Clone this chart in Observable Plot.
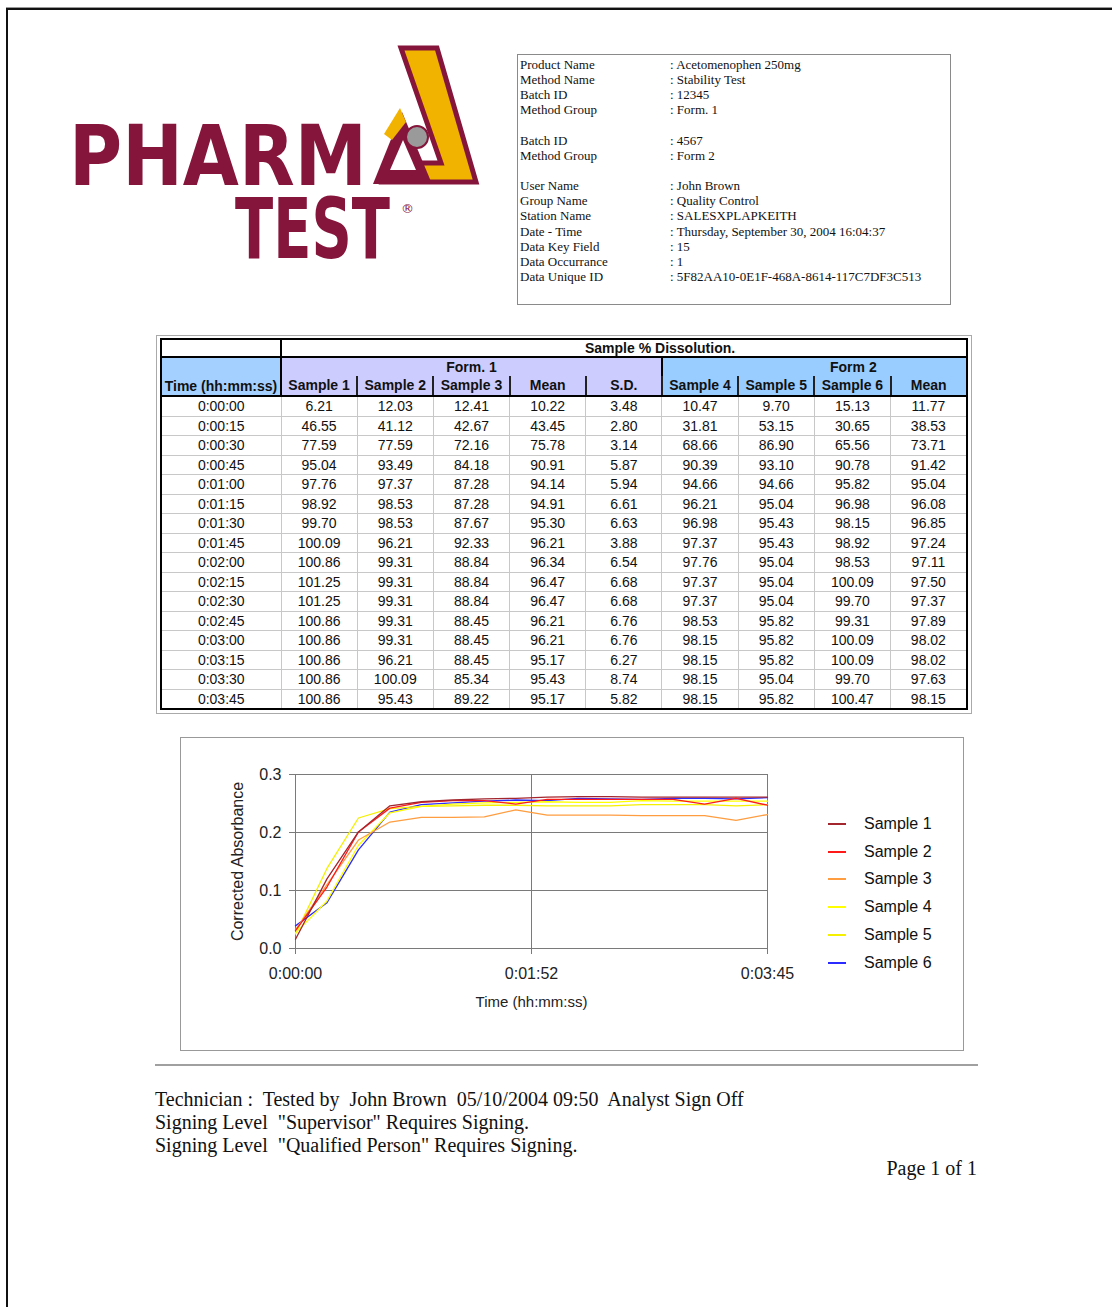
<!DOCTYPE html>
<html>
<head>
<meta charset="utf-8">
<script src="https://cdn.jsdelivr.net/npm/d3@7"></script>
<script src="https://cdn.jsdelivr.net/npm/@observablehq/plot@0.6"></script>
<style>
  html, body { margin: 0; padding: 0; background: #fff; }
  body { width: 1112px; height: 1307px; position: relative; overflow: hidden; font-family: "Liberation Sans", Arial, sans-serif; color: #111; }
  .abs { position: absolute; }
  #pageborder { left: 6px; top: 8px; width: 1300px; height: 1400px; border-top: 2px solid #111; border-left: 2px solid #111; box-shadow: 0 -1px 0 #999; }
  #info { left: 517px; top: 54px; width: 434px; height: 251px; border: 1px solid #8a8a8a; box-sizing: border-box; font-family: "Liberation Serif", "Times New Roman", serif; font-size: 13px; line-height: 15.15px; color: #111; }
  #info .row { position: relative; height: 15.15px; white-space: nowrap; }
  #info .lab { position: absolute; left: 2px; }
  #info .val { position: absolute; left: 152px; }
  #tframe { left: 156px; top: 335px; width: 816px; height: 379px; border: 1px solid #aaa; box-sizing: border-box; }
  table.diss { position: absolute; left: 160px; top: 338px; width: 806px; border-collapse: collapse; table-layout: fixed; font-size: 14px; border: 2px solid #000; }
  table.diss td, table.diss th { padding: 0; text-align: center; overflow: hidden; white-space: nowrap; }
  table.diss tr.title td { height: 16px; line-height: 16px; font-weight: bold; border-bottom: 2px solid #000; }
  table.diss tr.h2 th { height: 18px; line-height: 18px; }
  table.diss tr.h3 th { height: 18px; line-height: 19px; border-bottom: 2px solid #000; }
  table.diss tr.data td { height: 18.5px; border: 1px solid #c8c8c8; line-height: 18px; }
  .f1 { background: #ccccff; }
  .f2 { background: #99ccff; }
  .tm { background: #a4d0ff; }
  #cframe { left: 180px; top: 737px; width: 784px; height: 314px; border: 1px solid #999; box-sizing: border-box; }
  #chart { left: 180px; top: 737px; }
  #legend { left: 828px; top: 810px; font-size: 16px; color: #111; }
  #legend .item { display: flex; align-items: center; height: 27.8px; white-space: nowrap; }
  #legend .sw { width: 18px; height: 2px; margin-right: 18px; }
  #rule { left: 155px; top: 1064px; width: 823px; border-top: 2px solid #a0a0a0; }
  #footer { left: 155px; top: 1088px; width: 822px; font-family: "Liberation Serif", "Times New Roman", serif; font-size: 20px; line-height: 23px; color: #111; white-space: pre; }
</style>
</head>
<body>
<div id="pageborder" class="abs"></div>

<svg class="abs" style="left:0;top:0" width="520" height="300" viewBox="0 0 520 300">
  <text transform="translate(69,185) scale(1,1.16)" x="0" y="0" font-family="DejaVu Sans" font-weight="bold" font-size="72" fill="#85153b" textLength="298" lengthAdjust="spacingAndGlyphs">PHARM</text>
  <text transform="translate(235,258) scale(1,1.5)" x="0" y="0" font-family="DejaVu Sans" font-weight="bold" font-size="56" fill="#85153b" textLength="155" lengthAdjust="spacingAndGlyphs">TEST</text>
  <text x="401" y="213" font-family="DejaVu Sans" font-size="13" fill="#85153b">®</text>
  <polygon points="401,48 437,48 476,182 382,182 388,163 441,163" fill="#f2b200" stroke="#85153b" stroke-width="5" stroke-linejoin="miter"/>
  <polygon points="373,184 402,112 432,184" fill="#85153b"/>
  <polygon points="390,170 403,140 416,170" fill="#ffffff"/>
  <polygon points="384,134 400,108 406,122 392,140" fill="#f2b200"/>
  <circle cx="417" cy="137" r="11" fill="#9a9a9a" stroke="#85153b" stroke-width="2"/>
</svg>

<div id="info" class="abs"></div>
<div id="tframe" class="abs"></div>
<table class="diss" id="diss"></table>
<div id="cframe" class="abs"></div>
<div id="chart" class="abs"></div>
<div id="legend" class="abs"></div>
<div id="rule" class="abs"></div>
<div id="footer" class="abs"></div>

<script>
// ---------- Header info ----------
const infoLabels = ["Product Name", "Method Name", "Batch ID", "Method Group", "", "Batch ID", "Method Group", "", "User Name", "Group Name", "Station Name", "Date - Time", "Data Key Field", "Data Occurrance", "Data Unique ID"];
const infoValues = [": Acetomenophen 250mg", ": Stability Test", ": 12345", ": Form. 1", "", ": 4567", ": Form 2", "", ": John Brown", ": Quality Control", ": SALESXPLAPKEITH", ": Thursday, September 30, 2004 16:04:37", ": 15", ": 1", ": 5F82AA10-0E1F-468A-8614-117C7DF3C513"];

// ---------- Table: Sample % Dissolution ----------
const timeLabels = ["0:00:00","0:00:15","0:00:30","0:00:45","0:01:00","0:01:15","0:01:30","0:01:45","0:02:00","0:02:15","0:02:30","0:02:45","0:03:00","0:03:15","0:03:30","0:03:45"];
const diss1 = ["6.21","46.55","77.59","95.04","97.76","98.92","99.70","100.09","100.86","101.25","101.25","100.86","100.86","100.86","100.86","100.86"];
const diss2 = ["12.03","41.12","77.59","93.49","97.37","98.53","98.53","96.21","99.31","99.31","99.31","99.31","99.31","96.21","100.09","95.43"];
const diss3 = ["12.41","42.67","72.16","84.18","87.28","87.28","87.67","92.33","88.84","88.84","88.84","88.45","88.45","88.45","85.34","89.22"];
const mean1 = ["10.22","43.45","75.78","90.91","94.14","94.91","95.30","96.21","96.34","96.47","96.47","96.21","96.21","95.17","95.43","95.17"];
const sd1   = ["3.48","2.80","3.14","5.87","5.94","6.61","6.63","3.88","6.54","6.68","6.68","6.76","6.76","6.27","8.74","5.82"];
const diss4 = ["10.47","31.81","68.66","90.39","94.66","96.21","96.98","97.37","97.76","97.37","97.37","98.53","98.15","98.15","98.15","98.15"];
const diss5 = ["9.70","53.15","86.90","93.10","94.66","95.04","95.43","95.43","95.04","95.04","95.04","95.82","95.82","95.82","95.04","95.82"];
const diss6 = ["15.13","30.65","65.56","90.78","95.82","96.98","98.15","98.92","98.53","100.09","99.70","99.31","100.09","100.09","99.70","100.47"];
const mean2 = ["11.77","38.53","73.71","91.42","95.04","96.08","96.85","97.24","97.11","97.50","97.37","97.89","98.02","98.02","97.63","98.15"];

// ---------- Chart: Corrected Absorbance ----------
const timeSeconds = [0,15,30,45,60,75,90,105,120,135,150,165,180,195,210,225];
const sampleNames = ["Sample 1","Sample 2","Sample 3","Sample 4","Sample 5","Sample 6"];
const sampleColors = ["#a3262e","#ff1a1a","#ff9d40","#ffff00","#f4f000","#2b2bff"];
const abs1 = [0.016,0.120,0.201,0.246,0.253,0.256,0.258,0.259,0.261,0.262,0.262,0.261,0.261,0.261,0.261,0.261];
const abs2 = [0.031,0.106,0.201,0.242,0.252,0.255,0.255,0.249,0.257,0.257,0.257,0.257,0.257,0.249,0.259,0.247];
const abs3 = [0.032,0.110,0.187,0.218,0.226,0.226,0.227,0.239,0.230,0.230,0.230,0.229,0.229,0.229,0.221,0.231];
const abs4 = [0.027,0.082,0.178,0.234,0.245,0.249,0.251,0.252,0.253,0.252,0.252,0.255,0.254,0.254,0.254,0.254];
const abs5 = [0.025,0.138,0.225,0.241,0.245,0.246,0.247,0.247,0.246,0.246,0.246,0.248,0.248,0.248,0.246,0.248];
const abs6 = [0.039,0.079,0.170,0.235,0.248,0.251,0.254,0.256,0.255,0.259,0.258,0.257,0.259,0.259,0.258,0.260];
const yTicks = [0, 0.1, 0.2, 0.3];
const xTicks = [0, 112.5, 225];

// ---------- Footer ----------
const footerLines = [
  "Technician :  Tested by  John Brown  05/10/2004 09:50  Analyst Sign Off",
  "Signing Level  \"Supervisor\" Requires Signing.",
  "Signing Level  \"Qualified Person\" Requires Signing."
];
const pageLabel = "Page 1 of 1";

// ---------- Build info ----------
const info = document.getElementById("info");
info.style.paddingTop = "2px";
infoLabels.forEach((l, i) => {
  const r = document.createElement("div");
  r.className = "row";
  r.innerHTML = `<span class="lab">${l}</span><span class="val">${infoValues[i]}</span>`;
  info.appendChild(r);
});

// ---------- Build table ----------
const tbl = document.getElementById("diss");
let html = `<colgroup><col style="width:120px">${"<col style='width:76.2px'>".repeat(9)}</colgroup>`;
html += `<tr class="title"><td style="border-right:2px solid #000"></td><td colspan="9" style="text-align:left;padding-left:303px">Sample % Dissolution.</td></tr>`;
html += `<tr class="h2"><th class="tm" rowspan="2" style="vertical-align:bottom;padding-bottom:0px;border-right:2px solid #000;border-bottom:2px solid #000">Time (hh:mm:ss)</th>` +
        `<th class="f1" colspan="5">Form. 1</th><th class="f2" colspan="4" style="border-left:2px solid #000;padding-left:78px">Form 2</th></tr>`;
const h3 = ["Sample 1","Sample 2","Sample 3","Mean","S.D.","Sample 4","Sample 5","Sample 6","Mean"];
html += `<tr class="h3">` + h3.map((h, i) => {
  const cls = i < 5 ? "f1" : "f2";
  const bl = i === 0 ? "" : `border-left:2px solid #222;`;
  return `<th class="${cls}" style="${bl}">${h}</th>`;
}).join("") + `</tr>`;
timeLabels.forEach((t, i) => {
  const vals = [diss1[i], diss2[i], diss3[i], mean1[i], sd1[i], diss4[i], diss5[i], diss6[i], mean2[i]];
  html += `<tr class="data"><td>${t}</td>` + vals.map(v => `<td>${v}</td>`).join("") + `</tr>`;
});
tbl.innerHTML = html;

// ---------- Build chart ----------
const absSeries = [abs1, abs2, abs3, abs4, abs5, abs6];
const chartData = [];
for (let s = absSeries.length - 1; s >= 0; s--) {
  absSeries[s].forEach((v, i) => chartData.push({t: timeSeconds[i], v, name: sampleNames[s]}));
}
const pad2 = n => String(n).padStart(2, "0");
const fmtTime = t => `${Math.floor(t / 3600)}:${pad2(Math.floor(t / 60) % 60)}:${pad2(Math.floor(t % 60))}`;

const chart = Plot.plot({
  width: 783,
  height: 313,
  marginLeft: 115,
  marginRight: 196,
  marginTop: 37,
  marginBottom: 102,
  style: {fontFamily: "'Liberation Sans', Arial, sans-serif", fontSize: "16px", color: "#222", background: "transparent", overflow: "visible"},
  x: {domain: [0, 225]},
  y: {domain: [0, 0.3]},
  color: {domain: sampleNames, range: sampleColors},
  marks: [
    Plot.gridY({ticks: yTicks.slice(1), stroke: "#7a7a7a", strokeOpacity: 1}),
    Plot.gridX({ticks: xTicks.slice(1), stroke: "#7a7a7a", strokeOpacity: 1}),
    Plot.axisY({ticks: yTicks, tickFormat: d3.format(".1f"), tickSize: 6, tickPadding: 8, label: null, stroke: "#7a7a7a"}),
    Plot.axisX({ticks: xTicks, tickFormat: fmtTime, tickSize: 6, tickPadding: 13, label: null, stroke: "#7a7a7a"}),
    Plot.ruleY([0], {stroke: "#7a7a7a"}),
    Plot.ruleX([0], {stroke: "#7a7a7a"}),
    Plot.line(chartData, {x: "t", y: "v", z: "name", stroke: "name", strokeWidth: 1.3}),
    Plot.text(["Time (hh:mm:ss)"], {frameAnchor: "bottom", dy: 54, fontSize: 15, textAnchor: "middle", lineAnchor: "middle", fill: "#222"}),
    Plot.text(["Corrected Absorbance"], {frameAnchor: "left", dx: -58, rotate: -90, fontSize: 16, textAnchor: "middle", lineAnchor: "middle", fill: "#222"})
  ]
});
document.getElementById("chart").appendChild(chart);

// ---------- Legend ----------
const legend = document.getElementById("legend");
sampleNames.forEach((n, i) => {
  const it = document.createElement("div");
  it.className = "item";
  it.innerHTML = `<span class="sw" style="background:${sampleColors[i]}"></span><span>${n}</span>`;
  legend.appendChild(it);
});

// ---------- Footer ----------
const footer = document.getElementById("footer");
footer.innerHTML = footerLines.map(l => `<div>${l.replace(/&/g,"&amp;")}</div>`).join("") +
  `<div style="text-align:right">${pageLabel}</div>`;
</script>
</body>
</html>
